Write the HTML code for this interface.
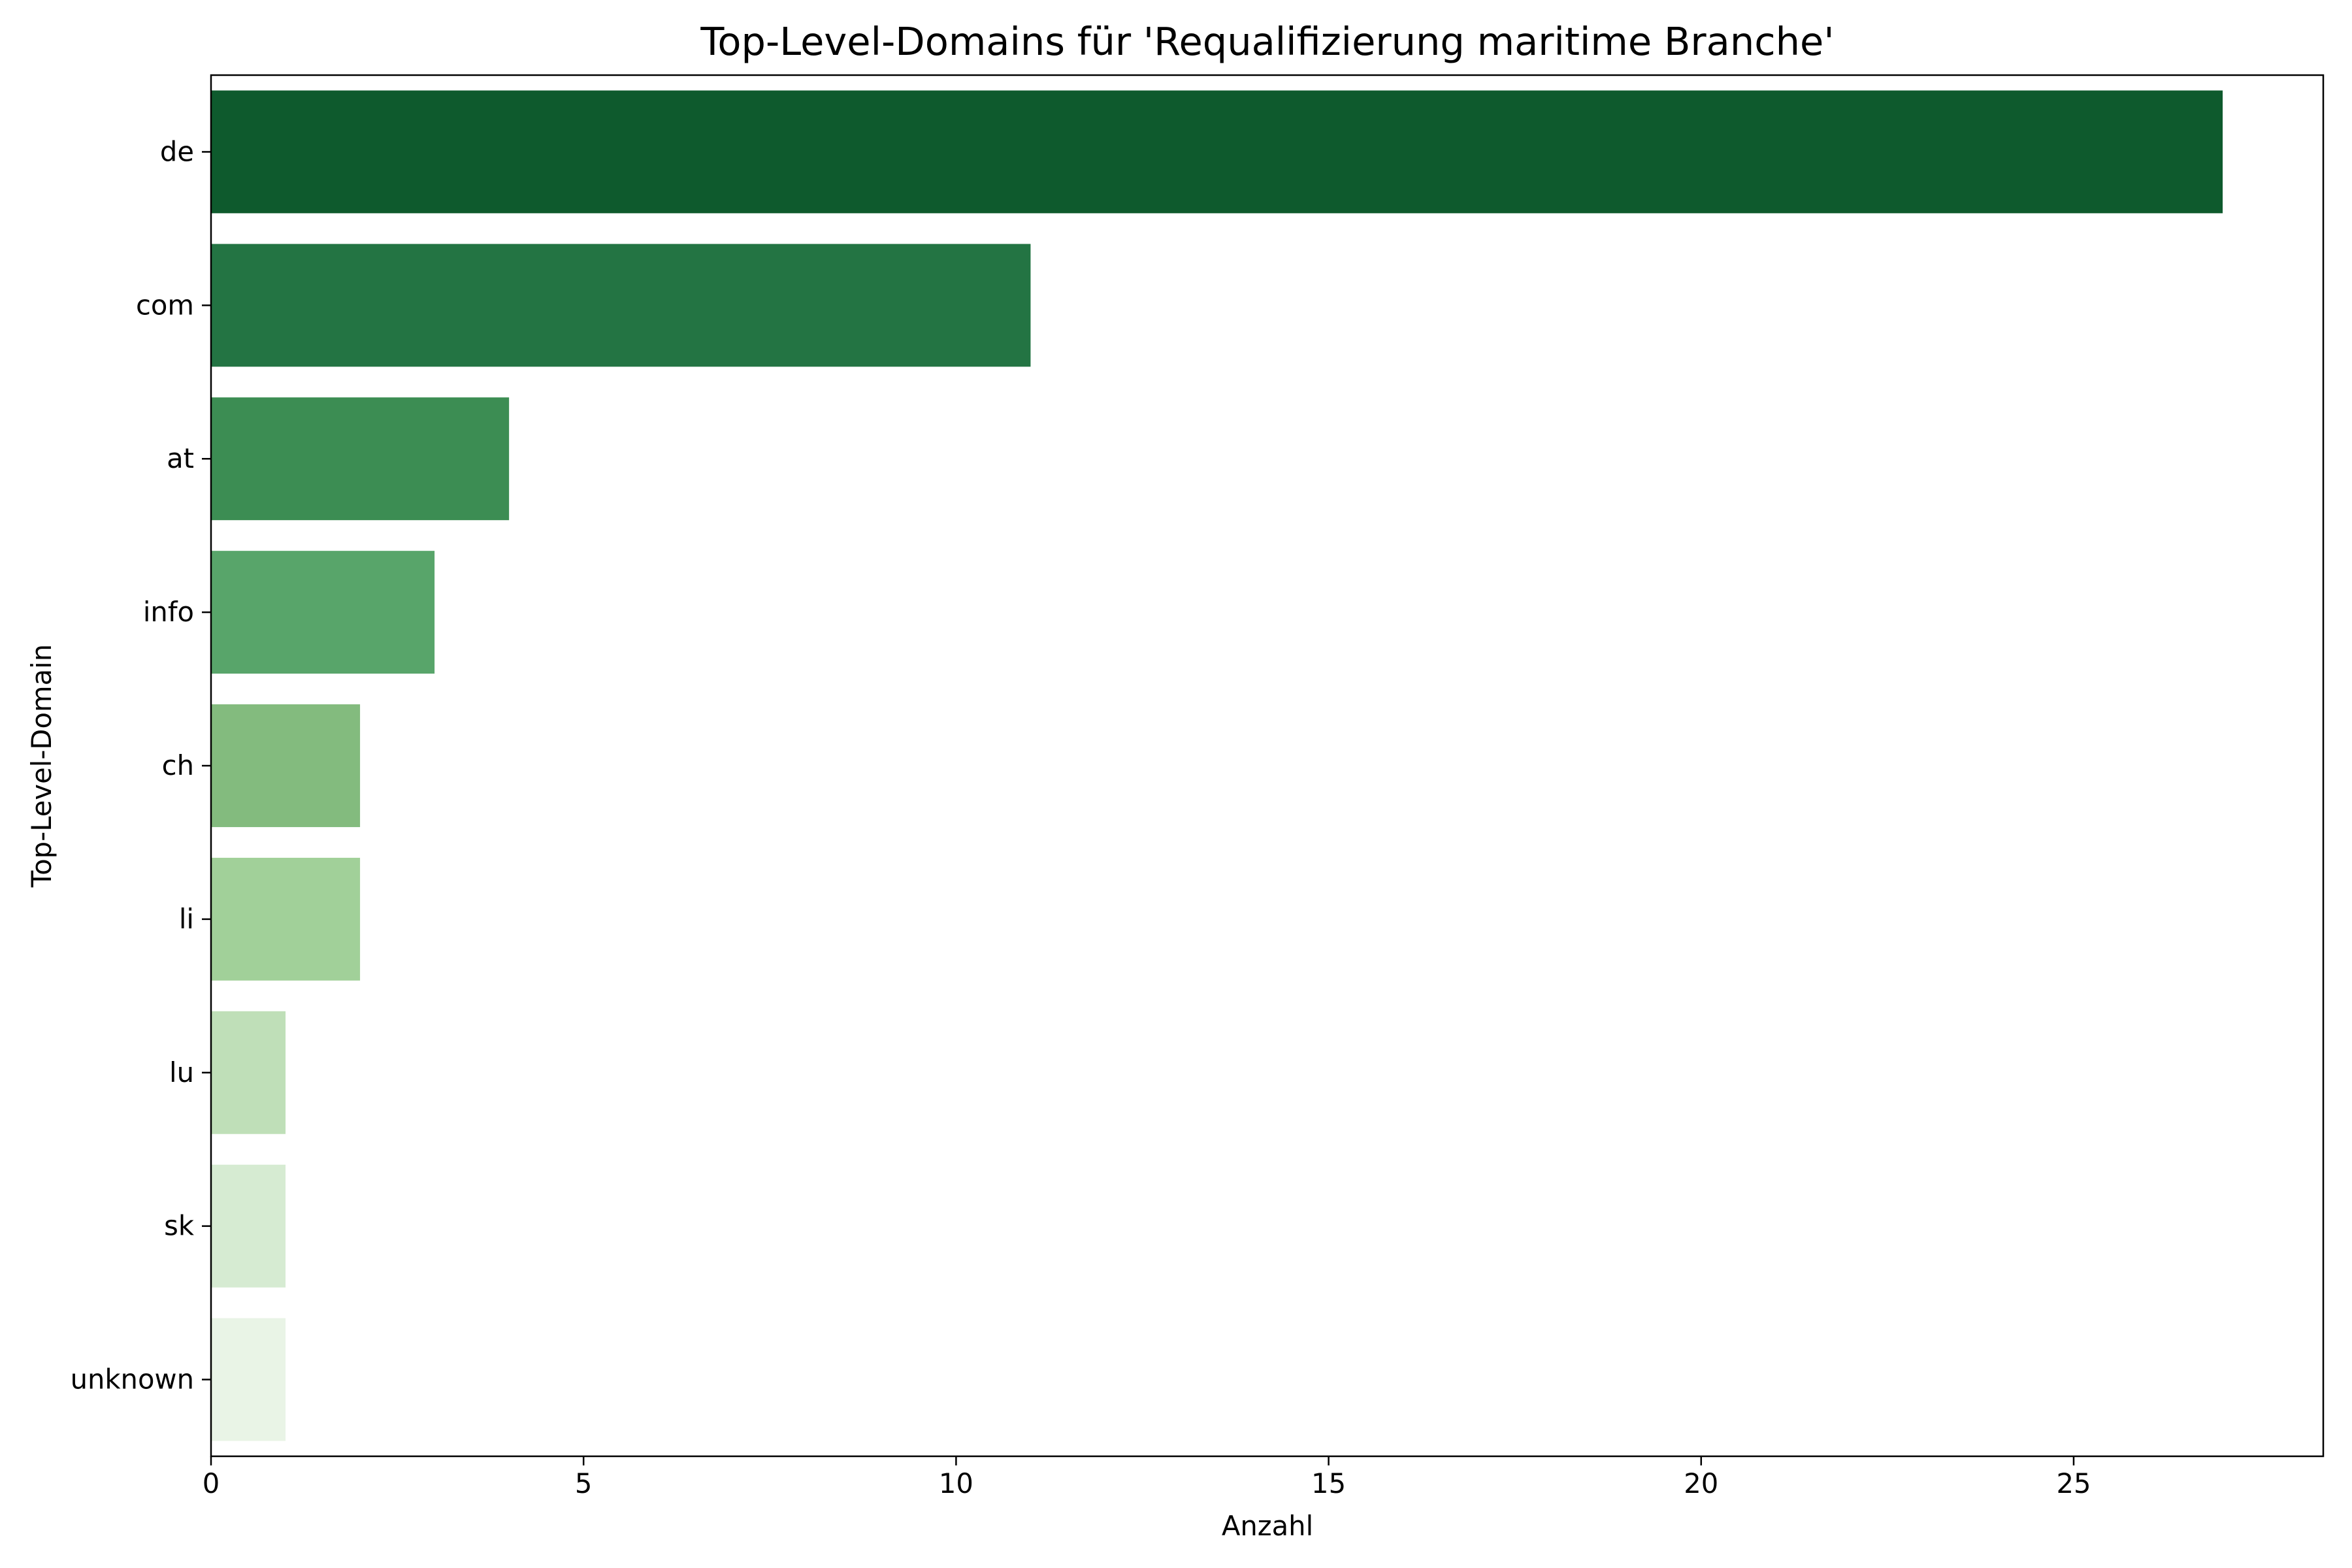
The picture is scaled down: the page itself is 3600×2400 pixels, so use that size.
<!DOCTYPE html>
<html><head><meta charset="utf-8"><style>
html,body{margin:0;padding:0;background:#fff}
svg{display:block;font-family:"DejaVu Sans","Liberation Sans",sans-serif}
</style></head><body>
<svg id="chart" width="3600" height="2400" viewBox="0 0 3600 2400" xmlns="http://www.w3.org/2000/svg">
<rect width="3600" height="2400" fill="#fff"/>
<text x="1940" y="84" font-size="59" text-anchor="middle">Top-Level-Domains für 'Requalifizierung maritime Branche'</text>
<g id="bars"></g>
<g id="axes"></g>
<text x="1940" y="2350" font-size="41.7" text-anchor="middle">Anzahl</text>
<text x="0" y="0" font-size="41.7" text-anchor="middle" transform="translate(78,1172) rotate(-90)">Top-Level-Domain</text>
</svg>
<script>
const categories = ["de","com","at","info","ch","li","lu","sk","unknown"];
const counts = [27,11,4,3,2,2,1,1,1];
const colors = ["#0e5a2d","#237443","#3c8d53","#58a56a","#83bb7e","#a1d099","#bfdfb8","#d6ebd2","#e9f4e6"];
const xTicks = [0,5,10,15,20,25];

const L=323,R=3556,T=115,B=2229;
const xMax=Math.max(...counts)*1.05;
const xs=v=>L+(v/xMax)*(R-L);
const band=(B-T)/categories.length;
const yc=i=>T+band*(i+0.5);
const NS="http://www.w3.org/2000/svg";
const bars=document.getElementById('bars');
const axes=document.getElementById('axes');
function mk(tag,attrs,parent){const e=document.createElementNS(NS,tag);for(const k in attrs)e.setAttribute(k,attrs[k]);parent.appendChild(e);return e;}
categories.forEach((c,i)=>{
  const r=mk('rect',{x:xs(0),y:yc(i)-band*0.4,width:xs(counts[i])-xs(0),height:band*0.8,fill:colors[i]},bars);
  
  
  const t=mk('line',{x1:L-14,x2:L,y1:yc(i),y2:yc(i),stroke:'#000','stroke-width':2.5},axes);
  
  
  const lb=mk('text',{x:L-26,y:yc(i)+14,'font-size':41.7,'text-anchor':'end'},axes);
  lb.textContent=c;
  
  
});
xTicks.forEach(v=>{
  const t=mk('line',{x1:xs(v),x2:xs(v),y1:B,y2:B+14,stroke:'#000','stroke-width':2.5},axes);
  
  
  const lb=mk('text',{x:xs(v),y:B+56,'font-size':41.7,'text-anchor':'middle'},axes);
  lb.textContent=v;
  
  
});
const fr=mk('rect',{x:L,y:T,width:R-L,height:B-T,fill:'none',stroke:'#000','stroke-width':2.5},axes);


</script>
</body></html>
